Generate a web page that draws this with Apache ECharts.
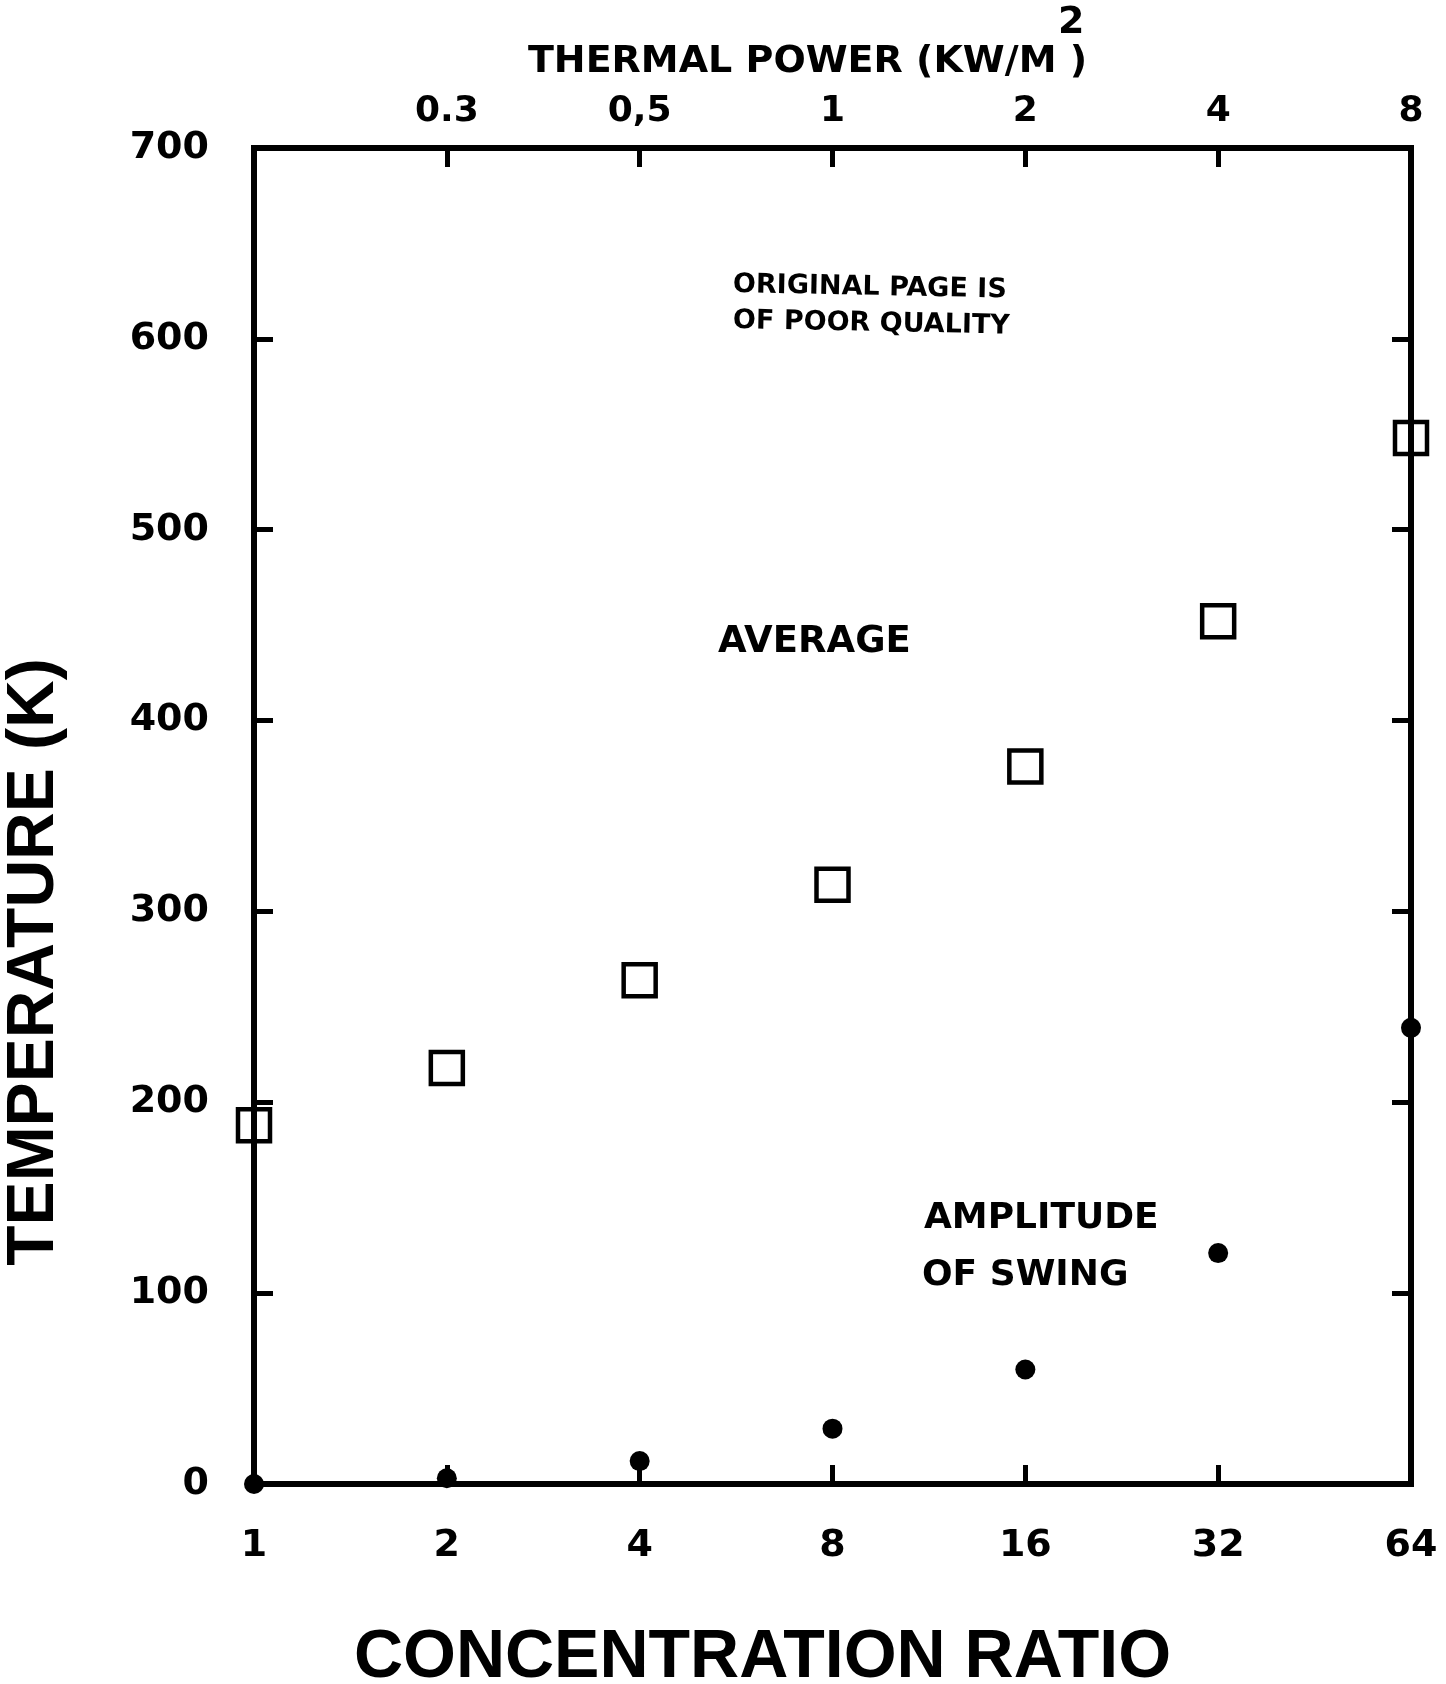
<!DOCTYPE html>
<html>
<head>
<meta charset="utf-8">
<script src="https://cdn.jsdelivr.net/npm/echarts@6.0.0/dist/echarts.min.js"></script>
<style>
  html, body { margin: 0; padding: 0; background: #fff; }
  #main { width: 1446px; height: 1684px; }
</style>
</head>
<body>
<div id="main"></div>
<script>
// concentration ratio (bottom axis) and readings
var ratios = [1, 2, 4, 8, 16, 32, 64];
var averageK = [188, 218, 264, 314, 376, 452, 548];
var swingK = [0, 3, 12, 29, 60, 121, 239];

// top axis: thermal power kW/m2, as printed on the figure
var powerTicks = [0.125, 0.25, 0.5, 1, 2, 4, 8];
var powerLabels = ['', '0.3', '0,5', '1', '2', '4', '8'];

var BOLD = 'DejaVu Sans';
var BIG = 'Liberation Sans';

function powerLabel(v) {
  for (var i = 0; i < powerTicks.length; i++) {
    if (Math.abs(Math.log2(v) - Math.log2(powerTicks[i])) < 1e-6) return powerLabels[i];
  }
  return '';
}

var axisLine = { show: true, onZero: false, lineStyle: { color: '#000', width: 6, cap: 'square' } };
var axisTick = { show: true, inside: true, length: 19, lineStyle: { color: '#000', width: 5 } };

var chart = echarts.init(document.getElementById('main'));

chart.setOption({
  backgroundColor: '#fff',
  animation: false,
  grid: { left: 254, right: 35, top: 148, bottom: 200, containLabel: false, outerBoundsMode: 'none' },
  xAxis: [
    {
      type: 'log',
      logBase: 2,
      min: 1,
      max: 64,
      position: 'bottom',
      axisLine: axisLine,
      axisTick: axisTick,
      splitLine: { show: false },
      axisLabel: {
        margin: 43,
        color: '#000',
        fontFamily: BOLD,
        fontWeight: 'bold',
        fontSize: 38,
        showMinLabel: true,
        showMaxLabel: true
      },
      name: 'CONCENTRATION RATIO',
      nameLocation: 'middle',
      nameGap: 140,
      nameTextStyle: {
        color: '#000', fontFamily: BIG, fontWeight: 'bold', fontSize: 68,
        padding: [0, 140, 0, 0]
      }
    },
    {
      type: 'log',
      logBase: 2,
      min: 0.125,
      max: 8,
      position: 'top',
      axisLine: axisLine,
      axisTick: axisTick,
      splitLine: { show: false },
      axisLabel: {
        margin: 18,
        color: '#000',
        fontFamily: BOLD,
        fontWeight: 'bold',
        fontSize: 36,
        showMinLabel: true,
        showMaxLabel: true,
        formatter: powerLabel
      },
      name: 'THERMAL POWER (KW/M )',
      nameLocation: 'middle',
      nameGap: 67,
      nameTextStyle: {
        color: '#000', fontFamily: BOLD, fontWeight: 'bold', fontSize: 38,
        padding: [0, 50, 0, 0]
      }
    }
  ],
  yAxis: [
    {
      type: 'value',
      min: 0,
      max: 700,
      interval: 100,
      position: 'left',
      axisLine: axisLine,
      axisTick: axisTick,
      splitLine: { show: false },
      axisLabel: {
        margin: 45,
        padding: [10, 0, 0, 0],
        color: '#000',
        fontFamily: BOLD,
        fontWeight: 'bold',
        fontSize: 38
      },
      name: 'TEMPERATURE (K)',
      nameLocation: 'middle',
      nameRotate: 90,
      nameGap: 186,
      nameTextStyle: {
        color: '#000', fontFamily: BIG, fontWeight: 'bold', fontSize: 66,
        padding: [0, 292, 0, 0]
      }
    },
    {
      type: 'value',
      min: 0,
      max: 700,
      interval: 100,
      position: 'right',
      axisLine: axisLine,
      axisTick: axisTick,
      splitLine: { show: false },
      axisLabel: { show: false }
    }
  ],
  series: [
    {
      name: 'Average',
      type: 'scatter',
      xAxisIndex: 0,
      yAxisIndex: 0,
      clip: false,
      symbol: 'rect',
      symbolSize: 32,
      itemStyle: { color: 'rgba(0,0,0,0)', borderColor: '#000', borderWidth: 4.5, opacity: 1 },
      data: ratios.map(function (r, i) { return [r, averageK[i]]; })
    },
    {
      name: 'Amplitude of swing',
      type: 'scatter',
      xAxisIndex: 0,
      yAxisIndex: 0,
      clip: false,
      symbol: 'circle',
      symbolSize: 20,
      itemStyle: { color: '#000', opacity: 1 },
      data: ratios.map(function (r, i) { return [r, swingK[i]]; })
    }
  ],
  graphic: [
    {
      type: 'text', left: 1058, top: 4,
      style: { text: '2', fill: '#000', font: 'bold 38px "DejaVu Sans"' }
    },
    {
      type: 'text', x: 718, y: 642,
      style: { text: 'AVERAGE', fill: '#000', font: 'bold 37px "DejaVu Sans"', verticalAlign: 'middle' }
    },
    {
      type: 'text', x: 924, y: 1219,
      style: { text: 'AMPLITUDE', fill: '#000', font: 'bold 36px "DejaVu Sans"', verticalAlign: 'middle' }
    },
    {
      type: 'text', x: 922, y: 1276,
      style: { text: 'OF SWING', fill: '#000', font: 'bold 36px "DejaVu Sans"', verticalAlign: 'middle' }
    },
    {
      type: 'text', x: 733, y: 285, rotation: -0.02,
      style: { text: 'ORIGINAL PAGE IS', fill: '#000', font: 'bold 27px "DejaVu Sans"', verticalAlign: 'middle' }
    },
    {
      type: 'text', x: 733, y: 321, rotation: -0.02,
      style: { text: 'OF POOR QUALITY', fill: '#000', font: 'bold 27px "DejaVu Sans"', verticalAlign: 'middle' }
    }
  ]
});
</script>
</body>
</html>
